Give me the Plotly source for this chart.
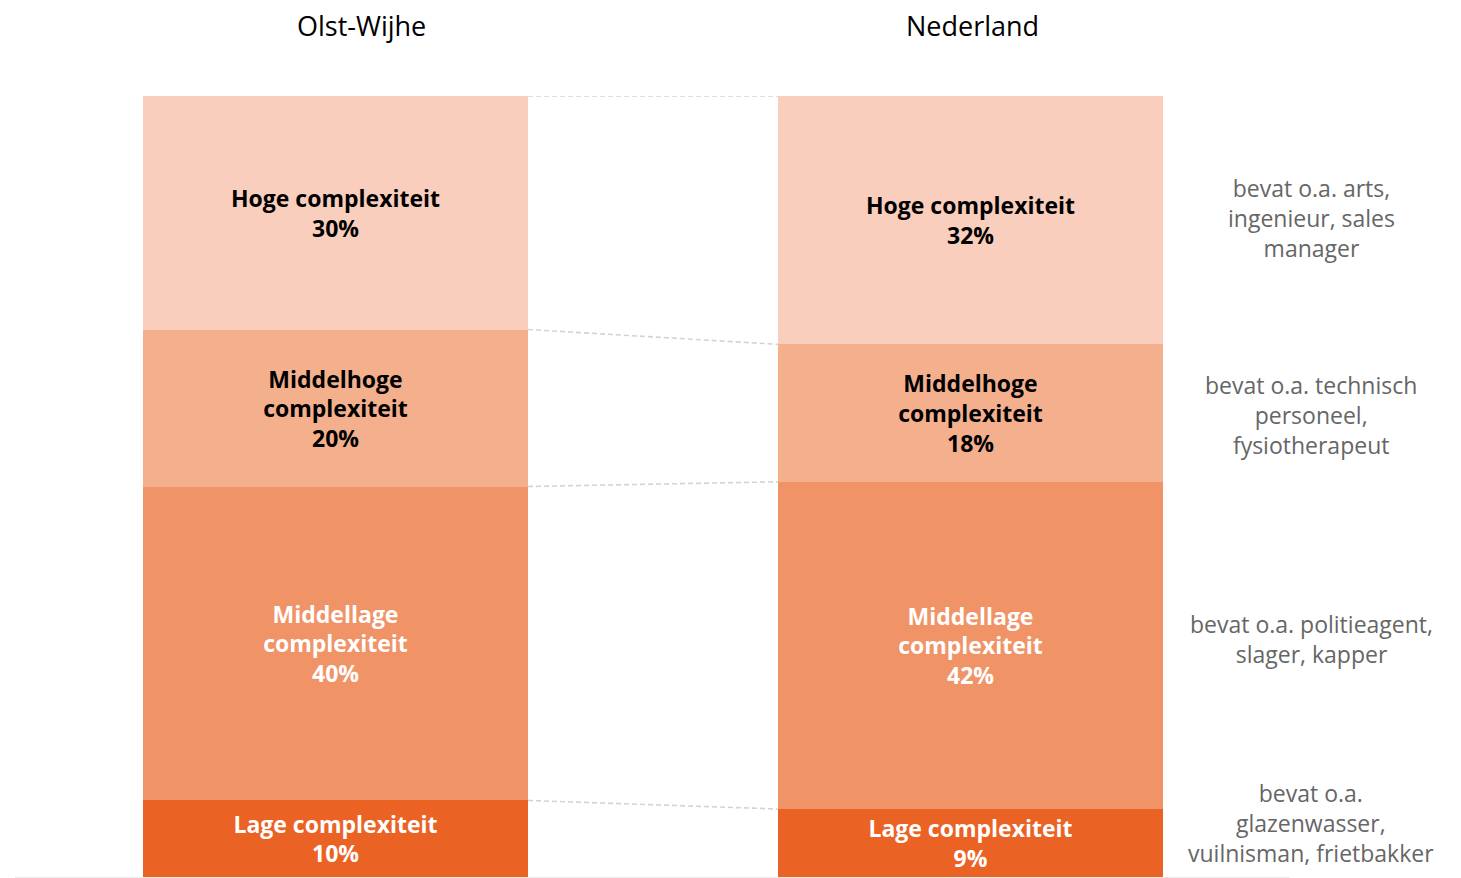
import plotly.graph_objects as go
import numpy as np

regions = ["Olst-Wijhe", "Nederland"]
levels = ["Lage complexiteit", "Middellage complexiteit", "Middelhoge complexiteit", "Hoge complexiteit"]
label_lines = ["Lage complexiteit", "Middellage<br>complexiteit", "Middelhoge<br>complexiteit", "Hoge complexiteit"]
olst_values = [9.8, 40.2, 20.1, 29.9]
nl_values = [8.7, 41.9, 17.6, 31.8]
descriptions = [
    "bevat o.a.<br>glazenwasser,<br>vuilnisman, frietbakker",
    "bevat o.a. politieagent,<br>slager, kapper",
    "bevat o.a. technisch<br>personeel,<br>fysiotherapeut",
    "bevat o.a. arts,<br>ingenieur, sales<br>manager",
]

colors = ["#EB6225", "#F09367", "#F4AF8D", "#F9CEBC"]
text_colors = ["white", "white", "black", "black"]
FONT = "Open Sans"

xpos = [0, 1]
bar_w = 0.606

fig = go.Figure()
for i, lvl in enumerate(levels):
    vals = [olst_values[i], nl_values[i]]
    fig.add_trace(go.Bar(
        x=xpos, y=vals, width=bar_w, name=lvl,
        marker=dict(color=colors[i], line=dict(width=0)),
        text=[f"<b>{label_lines[i]}<br>{round(v):.0f}%</b>" for v in vals],
        textposition="inside", insidetextanchor="middle",
        textangle=0, constraintext="none",
        textfont=dict(family=FONT, size=23, color=text_colors[i]),
        hoverinfo="skip", showlegend=False,
    ))

# connector lines between bars at segment boundaries
olst_cum = np.cumsum(olst_values)
nl_cum = np.cumsum(nl_values)
for a, b in zip(olst_cum, nl_cum):
    fig.add_trace(go.Scatter(
        x=[xpos[0] + bar_w / 2, xpos[1] - bar_w / 2], y=[a, b],
        mode="lines", line=dict(color="#D3D3D3", width=1.6, dash="5px,3px"),
        hoverinfo="skip", showlegend=False,
    ))

# region titles
title_shift = [26, 2]
for i, r in enumerate(regions):
    fig.add_annotation(
        x=xpos[i], y=1, xref="x", yref="paper", yanchor="middle",
        yshift=71, xshift=title_shift[i], text=r, showarrow=False,
        font=dict(family=FONT, size=27, color="black"),
    )

# descriptions on the right
nl_mid = nl_cum - np.array(nl_values) / 2
desc_shift = [20, 6, -2, 2]
for i, d in enumerate(descriptions):
    fig.add_annotation(
        x=1.0, xref="paper", xanchor="center", xshift=21,
        y=nl_mid[i], yref="y", yshift=desc_shift[i],
        text=d, showarrow=False, align="center",
        font=dict(family=FONT, size=23, color="#666666"),
    )

fig.update_layout(
    width=1453, height=870,
    margin=dict(l=7, r=171, t=88, b=1),
    barmode="stack", bargap=0,
    plot_bgcolor="white", paper_bgcolor="white",
    xaxis=dict(range=[-0.505, 1.503], showticklabels=False, showgrid=False,
               zeroline=False, showline=True, linecolor="#EBEBEB", linewidth=1,
               fixedrange=True),
    yaxis=dict(range=[0, 100], showticklabels=False, showgrid=False,
               zeroline=False, showline=False, fixedrange=True),
)

fig.write_html("out.html")
